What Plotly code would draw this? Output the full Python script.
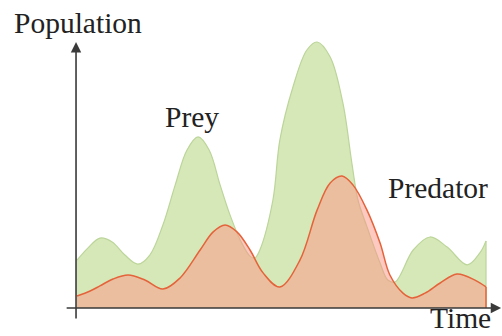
import plotly.graph_objects as go

FONT_FAMILY = "Liberation Serif, Times New Roman, serif"

# prey (green) population over time
prey_time = [0, 2.7, 5.6, 8.6, 11.7, 14.9, 17.8, 21.0, 24.0, 26.9, 29.6, 32.3, 35.0,
             37.4, 39.9, 42.3, 43.5, 44.7, 47.9, 49.6, 52.8, 56.2, 58.7, 61.9, 65.0,
             67.2, 68.7, 70.9, 74.1, 76.0, 77.8, 82.2, 86.3, 90.5, 95.4, 98.5, 100]
prey_pop = [18.0, 22.6, 26.3, 24.8, 19.9, 16.5, 19.9, 31.2, 46.2, 59.4, 64.3, 59.4, 46.2,
            35.0, 25.6, 19.5, 18.8, 21.8, 40.6, 63.2, 83.1, 97.0, 100, 94.4, 77.1,
            54.5, 40.6, 30.5, 16.9, 10.5, 9.8, 21.8, 26.7, 22.9, 16.2, 20.7, 25.2]

# predator (orange) population over time
pred_time = [0, 3.2, 5.6, 8.8, 12.5, 16.6, 21.0, 25.2, 30.1, 33.3, 36.2, 39.1, 42.3,
             45.5, 49.6, 54.5, 58.7, 61.9, 64.8, 67.5, 70.9, 74.1, 76.5, 79.7, 81.9,
             85.1, 88.8, 92.9, 97.3, 100]
pred_pop = [4.5, 6.4, 8.3, 10.9, 12.4, 10.5, 7.1, 11.3, 21.8, 28.6, 31.2, 28.6, 21.8,
            13.2, 7.9, 18.0, 36.8, 47.0, 49.6, 46.2, 36.8, 24.4, 12.4, 5.6, 3.8,
            5.6, 9.4, 12.8, 10.5, 7.9]

GREEN_FILL = "rgb(214,232,184)"
GREEN_LINE = "#bcd59a"
ORANGE_FILL = "rgba(254,148,132,0.5)"
ORANGE_LINE = "#e5633a"
AXIS_COLOR = "#3a3a3a"

fig = go.Figure()
fig.add_trace(go.Scatter(
    x=prey_time, y=prey_pop, mode="lines", fill="tozeroy", fillcolor=GREEN_FILL,
    line={"color": GREEN_LINE, "width": 1.2, "shape": "spline", "smoothing": 1.0},
    hoverinfo="skip",
))
fig.add_trace(go.Scatter(
    x=[prey_time[-1], prey_time[-1]], y=[0, prey_pop[-1]], mode="lines",
    line={"color": GREEN_LINE, "width": 1.2}, hoverinfo="skip",
))
fig.add_trace(go.Scatter(
    x=pred_time, y=pred_pop, mode="lines", fill="tozeroy", fillcolor=ORANGE_FILL,
    line={"color": ORANGE_LINE, "width": 1.5, "shape": "spline", "smoothing": 1.0},
    hoverinfo="skip",
))
fig.add_trace(go.Scatter(
    x=[pred_time[-1], pred_time[-1]], y=[0, pred_pop[-1]], mode="lines",
    line={"color": ORANGE_LINE, "width": 1.5}, hoverinfo="skip",
))

# axes drawn as arrows
fig.add_annotation(x=-0.24, y=100, ax=-0.24, ay=-4.5, xref="x", yref="y", axref="x", ayref="y",
                   text="", showarrow=True, arrowhead=2, arrowsize=1.3, arrowwidth=1.6,
                   arrowcolor=AXIS_COLOR)
fig.add_annotation(x=103.7, y=0, ax=-2.9, ay=0, xref="x", yref="y", axref="x", ayref="y",
                   text="", showarrow=True, arrowhead=2, arrowsize=1.3, arrowwidth=1.6,
                   arrowcolor=AXIS_COLOR)

label_font = {"family": FONT_FAMILY, "size": 29.5, "color": "#222"}
for text, x, y, anchor in [
    ("Population", 12 / 502, 1 - 23 / 336, "left"),
    ("Prey", 192 / 502, 1 - 117 / 336, "center"),
    ("Predator", 438 / 502, 1 - 188 / 336, "center"),
    ("Time", 493 / 502, 1 - 318 / 336, "right"),
]:
    fig.add_annotation(text=text, x=x, y=y, xref="paper", yref="paper", xanchor=anchor,
                       yanchor="middle", showarrow=False, font=label_font)

fig.update_layout(
    width=502, height=336,
    margin={"t": 0, "b": 0, "l": 0, "r": 0},
    plot_bgcolor="white", paper_bgcolor="white",
    showlegend=False,
    xaxis={"range": [-18.83, 103.91], "visible": False},
    yaxis={"range": [-10.53, 115.8], "visible": False},
)
fig.write_html("out.html", config={"displayModeBar": False},
               post_script="document.body.style.margin = '0';")
